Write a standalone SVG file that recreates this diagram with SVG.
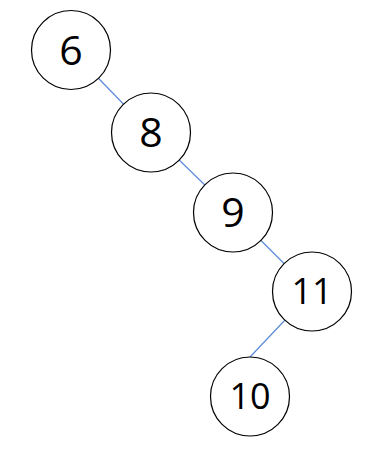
<svg xmlns="http://www.w3.org/2000/svg" width="375" height="452" viewBox="0 0 375 452">
<style>
.n circle{fill:#fff;stroke:#000;stroke-width:1.2}
.n text{font-family:"Open Sans","Noto Sans",sans-serif;fill:#000;text-anchor:middle}
.big{font-size:41px}
.small{font-size:36px}
#edges line{stroke:#5b8bd8;stroke-width:1.2}
</style>
<rect width="375" height="452" fill="#fff"/>
<g id="edges">
<line x1="71" y1="50" x2="151" y2="132.5"/>
<line x1="151" y1="132.5" x2="233" y2="212.5"/>
<line x1="233" y1="212.5" x2="312" y2="291.5"/>
<line x1="312" y1="291.5" x2="250" y2="357"/>
</g>
<g id="n6" class="n"><circle cx="71" cy="50" r="39.5"/><text class="big" x="71" y="65">6</text></g>
<g id="n8" class="n"><circle cx="151" cy="132.5" r="39.5"/><text class="big" x="151" y="147">8</text></g>
<g id="n9" class="n"><circle cx="233" cy="212.5" r="39.5"/><text class="big" x="233" y="227">9</text></g>
<g id="n11" class="n"><circle cx="312" cy="291.5" r="39.5"/><text class="small" x="312" y="304">11</text></g>
<g id="n10" class="n"><circle cx="250" cy="396.5" r="39.5"/><text class="small" x="250" y="409">10</text></g>
</svg>
